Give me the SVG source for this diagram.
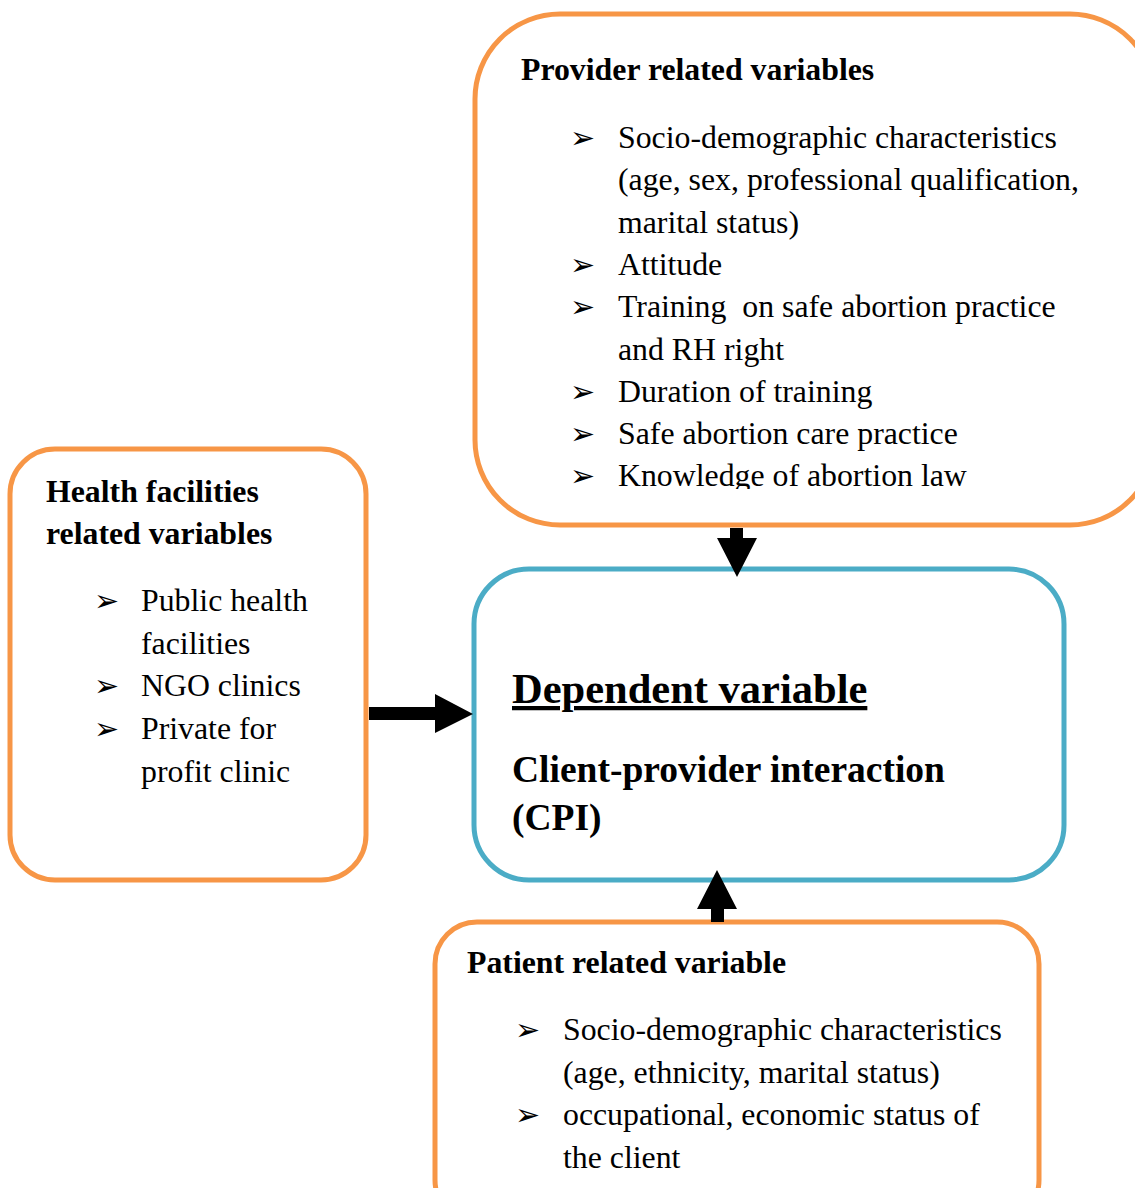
<svg xmlns="http://www.w3.org/2000/svg" width="1135" height="1188" viewBox="0 0 1135 1188">
<style>
.box{fill:#fff;stroke:#F79646;stroke-width:5}
.dep{fill:#fff;stroke:#4BACC6;stroke-width:5}
text{font-family:"Liberation Serif","Times New Roman",serif;fill:#000}
.t{font-size:31.8px}
.h{font-size:31.8px;font-weight:bold}
.b{font-family:"DejaVu Sans",sans-serif;font-size:30px}
.big{font-size:42.5px;font-weight:bold;text-decoration:underline}
.mid{font-size:37.5px;font-weight:bold}
.arr{fill:#000}
</style>
<defs>
<clipPath id="pc"><rect x="0" y="0" width="1135" height="489"/></clipPath>
</defs>
<rect width="1135" height="1188" fill="#fff"/>
<g id="provider">
<rect class="box" x="475" y="14" width="680" height="511" rx="85"/>
<text class="h" x="521" y="80">Provider related variables</text>
<g clip-path="url(#pc)">
<text class="b" x="570" y="148">➢</text><text class="t" x="618" y="148">Socio-demographic characteristics</text>
<text class="t" x="618" y="190">(age, sex, professional qualification,</text>
<text class="t" x="618" y="233">marital status)</text>
<text class="b" x="570" y="275">➢</text><text class="t" x="618" y="275">Attitude</text>
<text class="b" x="570" y="317">➢</text><text class="t" x="618" y="317" xml:space="preserve">Training  on safe abortion practice</text>
<text class="t" x="618" y="360">and RH right</text>
<text class="b" x="570" y="402">➢</text><text class="t" x="618" y="402">Duration of training</text>
<text class="b" x="570" y="444">➢</text><text class="t" x="618" y="444">Safe abortion care practice</text>
<text class="b" x="570" y="486">➢</text><text class="t" x="618" y="486">Knowledge of abortion law</text>
</g>
</g>
<g id="health">
<rect class="box" x="10" y="449" width="356" height="431" rx="45"/>
<text class="h" x="46" y="502">Health facilities</text>
<text class="h" x="46" y="544">related variables</text>
<text class="b" x="94" y="611">➢</text><text class="t" x="141" y="611">Public health</text>
<text class="t" x="141" y="654">facilities</text>
<text class="b" x="94" y="696">➢</text><text class="t" x="141" y="696">NGO clinics</text>
<text class="b" x="94" y="739">➢</text><text class="t" x="141" y="739">Private for</text>
<text class="t" x="141" y="782">profit clinic</text>
</g>
<g id="dependent">
<rect class="dep" x="474" y="569" width="590" height="311" rx="55"/>
<text class="big" x="512" y="703">Dependent variable</text>
<text class="mid" x="512" y="782">Client-provider interaction</text>
<text class="mid" x="512" y="830">(CPI)</text>
</g>
<g id="patient">
<rect class="box" x="435" y="922" width="604" height="300" rx="42"/>
<text class="h" x="467" y="973">Patient related variable</text>
<text class="b" x="515" y="1040">➢</text><text class="t" x="563" y="1040">Socio-demographic characteristics</text>
<text class="t" x="563" y="1083">(age, ethnicity, marital status)</text>
<text class="b" x="515" y="1125">➢</text><text class="t" x="563" y="1125">occupational, economic status of</text>
<text class="t" x="563" y="1168">the client</text>
</g>
<g id="connectors">
<polygon class="arr" points="369,707 435,707 435,694 473,714 435,733 435,720 369,720"/>
<polygon class="arr" points="730,528 743,528 743,538 757,538 737,577 717,538 730,538"/>
<polygon class="arr" points="711,922 724,922 724,909 737,909 717,870 697,909 711,909"/>
</g>
</svg>
